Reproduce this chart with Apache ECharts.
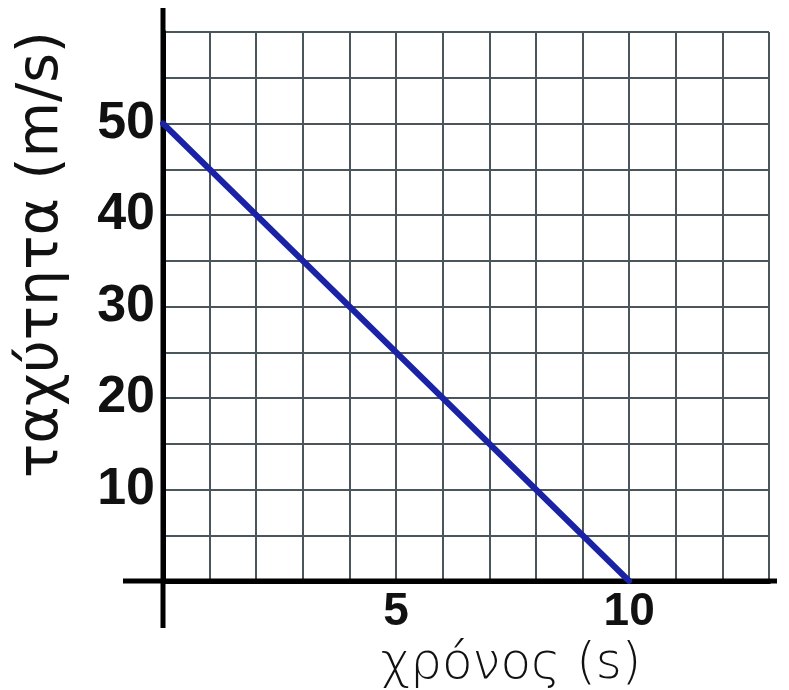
<!DOCTYPE html>
<html>
<head>
<meta charset="utf-8">
<script src="https://cdn.jsdelivr.net/npm/echarts@6/dist/echarts.min.js"></script>
<style>
  html,body{margin:0;padding:0;background:#fff}
  #chart{width:789px;height:690px}
</style>
</head>
<body>
<div id="chart"></div>
<script>
// speed vs time, straight line from 50 m/s down to 0 at 10 s
const lineTimes = [0, 10]
const lineSpeeds = [50, 0]
const xTickLabels = [5, 10]
const yTickLabels = [10, 20, 30, 40, 50]
const xName = 'χρόνος (s)'
const yName = 'ταχύτητα (m/s)'

var myChart = echarts.init(document.getElementById('chart'))

var option = {
  animation: false,
  grid: { left: 163, right: 20, top: 32, bottom: 109, outerBoundsMode: 'none' },
  xAxis: {
    type: 'value',
    min: 0,
    max: 13,
    interval: 1,
    name: xName,
    nameLocation: 'middle',
    nameGap: 50,
    nameTextStyle: {
      fontFamily: 'DejaVu Sans',
      fontWeight: 200,
      fontSize: 50,
      color: '#111',
      padding: [0, 0, 0, 90]
    },
    axisLine: { show: true, lineStyle: { color: '#000', width: 5 } },
    axisTick: { show: false },
    axisLabel: {
      margin: 8,
      fontFamily: 'Liberation Sans',
      fontWeight: 'bold',
      fontSize: 46,
      color: '#111',
      formatter: v => xTickLabels.includes(v) ? String(v) : ''
    },
    splitLine: { show: true, lineStyle: { color: '#4a565c', width: 2 } }
  },
  yAxis: {
    type: 'value',
    min: 0,
    max: 60,
    interval: 5,
    name: yName,
    nameLocation: 'middle',
    nameGap: 92,
    nameTextStyle: {
      fontFamily: 'DejaVu Sans',
      fontSize: 57,
      color: '#111',
      padding: [0, 0, 0, 104]
    },
    axisLine: { show: true, lineStyle: { color: '#000', width: 5 } },
    axisTick: { show: false },
    axisLabel: {
      margin: 8,
      fontFamily: 'Liberation Sans',
      fontWeight: 'bold',
      fontSize: 52,
      color: '#111',
      formatter: v => yTickLabels.includes(v) ? String(v) : ''
    },
    splitLine: { show: true, lineStyle: { color: '#4a565c', width: 2 } }
  },
  series: [{
    type: 'line',
    data: lineTimes.map((t, i) => [t, lineSpeeds[i]]),
    symbol: 'none',
    lineStyle: { color: '#1a22a6', width: 6, cap: 'round' }
  }]
}
myChart.setOption(option)

// the hand drawn axes run a bit past the grid on every side
var o = myChart.convertToPixel({ gridIndex: 0 }, [0, 0])
var corner = myChart.convertToPixel({ gridIndex: 0 }, [13, 60])
myChart.setOption({
  graphic: [
    { type: 'line', z: 1, shape: { x1: o[0], y1: corner[1] - 24, x2: o[0], y2: o[1] + 47 },
      style: { stroke: '#000', lineWidth: 5 } },
    { type: 'line', z: 1, shape: { x1: o[0] - 40, y1: o[1], x2: corner[0] + 8, y2: o[1] },
      style: { stroke: '#000', lineWidth: 5 } }
  ]
})
</script>
</body>
</html>
